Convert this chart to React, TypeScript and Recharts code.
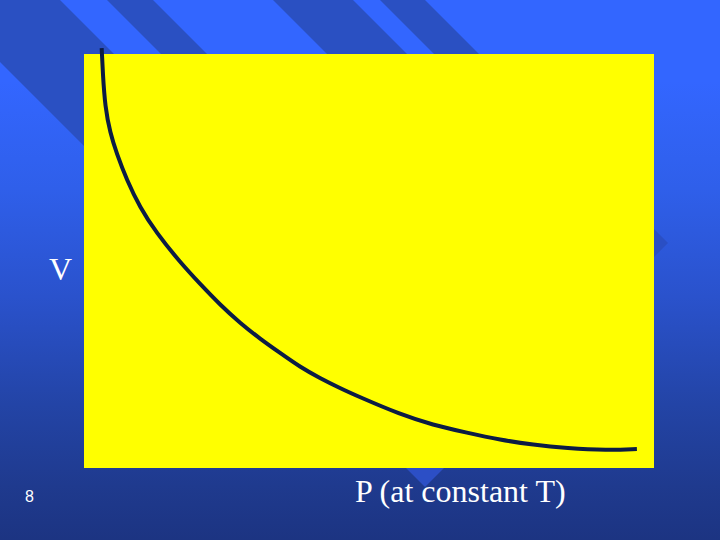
import React from "react";
import { ComposedChart, Line, XAxis, YAxis, ReferenceArea } from "recharts";

// Boyle's law curve: pressure (x) vs volume (y)
const pressure = [0.31, 0.33, 0.37, 0.46, 0.57, 0.75, 0.98, 1.27, 1.68, 2.04, 2.39, 2.74, 3.09, 3.44, 3.79, 4.14, 4.49, 4.84, 5.54, 6.12, 6.72, 7.3, 7.88, 8.47, 9.18, 9.7];
const volume = [10.14, 9.54, 8.72, 8.09, 7.61, 6.96, 6.3, 5.68, 4.98, 4.44, 3.94, 3.5, 3.12, 2.78, 2.44, 2.17, 1.93, 1.71, 1.3, 1.04, 0.85, 0.68, 0.56, 0.48, 0.43, 0.46];

const xLabel = "P (at constant T)";
const yLabel = "V";
const slideNumber = "8";

const data = pressure.map((p, i) => ({ p, v: volume[i] }));

const W = 720;
const H = 540;

const Background = () => (
  <svg width={W} height={H} style={{ position: "absolute", left: 0, top: 0 }}>
    <defs>
      <linearGradient id="bg" x1="0" y1="0" x2="0" y2="1">
        <stop offset="0" stopColor="#3366ff" />
        <stop offset="0.15" stopColor="#3366ff" />
        <stop offset="0.35" stopColor="#2f5fea" />
        <stop offset="0.55" stopColor="#2a52cc" />
        <stop offset="0.75" stopColor="#2344a6" />
        <stop offset="0.9" stopColor="#1f3a8e" />
        <stop offset="1" stopColor="#1c3482" />
      </linearGradient>
    </defs>
    <rect x={0} y={0} width={W} height={H} fill="url(#bg)" />
    {/* diagonal stripes, top-left */}
    <polygon points="0,0 60,0 260,200 138,200 0,62" fill="#2a50c2" />
    <polygon points="107,0 153,0 213,60 167,60" fill="#2a50c2" />
    <polygon points="273,0 353,0 413,60 333,60" fill="#2a50c2" />
    <polygon points="380,0 425,0 485,60 440,60" fill="#2a50c2" />
    {/* diamonds peeking out from behind the panel */}
    <polygon points="654,229 668,243 654,257 640,243" fill="#2a4fc4" />
    <polygon points="425,449 444,468 425,487 406,468" fill="#2c4fc6" />
  </svg>
);

export default function App() {
  return (
    <div style={{ position: "absolute", left: 0, top: 0, width: W, height: H, overflow: "hidden" }}>
      <Background />
      <div style={{ position: "absolute", left: 0, top: 0 }}>
        <ComposedChart
          width={W}
          height={H}
          data={data}
          margin={{ top: 33.3, right: 66, bottom: 72, left: 84 }}
        >
          <XAxis type="number" dataKey="p" domain={[0, 10]} hide />
          <YAxis type="number" domain={[0, 10.5]} hide />
          <ReferenceArea x1={0} x2={10} y1={0} y2={10} fill="#ffff00" fillOpacity={1} stroke="none" />
          <Line
            type="basis"
            dataKey="v"
            stroke="#0c1c44"
            strokeWidth={4}
            dot={false}
            activeDot={false}
            isAnimationActive={false}
          />
        </ComposedChart>
      </div>
      <div
        style={{
          position: "absolute",
          left: 49,
          top: 250,
          fontFamily: "'Liberation Serif', 'Times New Roman', serif",
          fontSize: 32,
          lineHeight: "38px",
          color: "#ffffff",
        }}
      >
        {yLabel}
      </div>
      <div
        style={{
          position: "absolute",
          left: 355,
          top: 472,
          fontFamily: "'Liberation Serif', 'Times New Roman', serif",
          fontSize: 32,
          lineHeight: "38px",
          color: "#ffffff",
          whiteSpace: "nowrap",
        }}
      >
        {xLabel}
      </div>
      <div
        style={{
          position: "absolute",
          left: 25,
          top: 487,
          fontFamily: "'Liberation Sans', Arial, sans-serif",
          fontSize: 16,
          lineHeight: "20px",
          color: "#ffffff",
        }}
      >
        {slideNumber}
      </div>
    </div>
  );
}
